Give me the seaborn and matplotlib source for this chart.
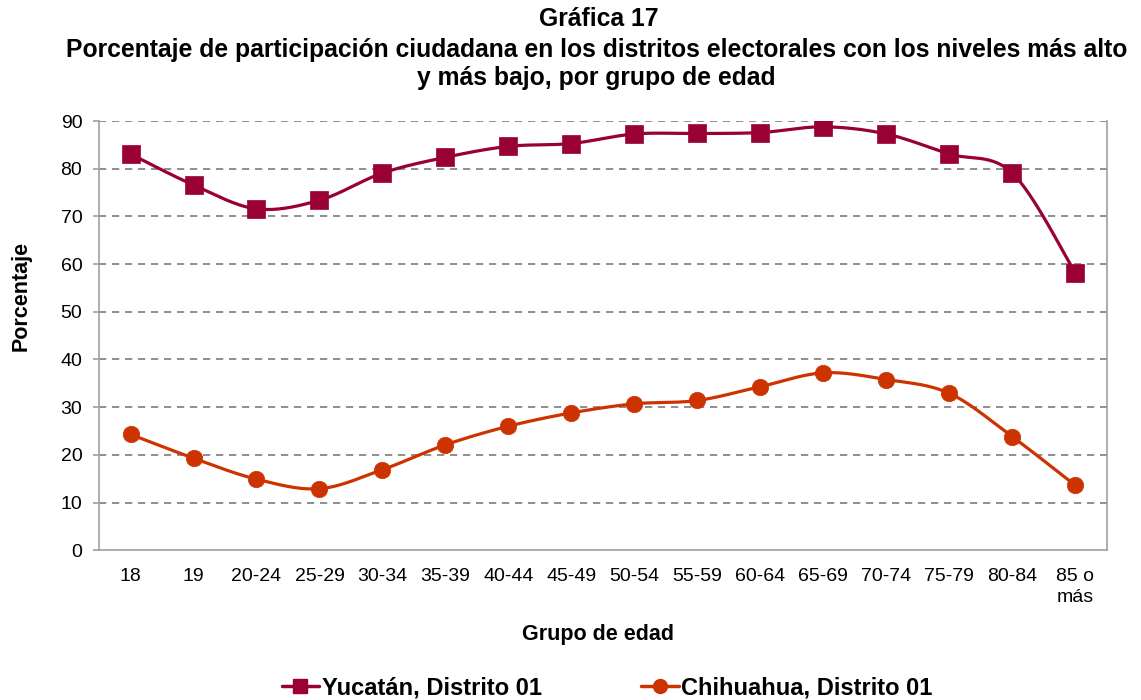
import numpy as np
import pandas as pd
import matplotlib
matplotlib.use("Agg")
import matplotlib.pyplot as plt
from matplotlib.lines import Line2D
import seaborn as sns

categories = ["18", "19", "20-24", "25-29", "30-34", "35-39", "40-44", "45-49",
              "50-54", "55-59", "60-64", "65-69", "70-74", "75-79", "80-84", "85 o\nmás"]
yucatan = [83.1, 76.6, 71.6, 73.4, 79.1, 82.4, 84.7, 85.3, 87.3, 87.4, 87.6, 88.8,
           87.3, 83.1, 79.1, 58.2]
chihuahua = [24.3, 19.3, 14.9, 12.9, 16.9, 22.1, 26.0, 28.8, 30.7, 31.4, 34.3, 37.2,
             35.8, 32.9, 23.8, 13.6]
series_names = ["Yucatán, Distrito 01", "Chihuahua, Distrito 01"]
colors = ["#990033", "#CC3300"]
markers = ["s", "o"]
y_ticks = list(range(0, 100, 10))

sns.set_theme(style="white")
plt.rcParams["font.family"] = ["Liberation Sans", "DejaVu Sans"]
plt.rcParams["text.color"] = "black"
plt.rcParams["xtick.color"] = "black"
plt.rcParams["ytick.color"] = "black"
plt.rcParams["axes.labelcolor"] = "black"


def smooth(xs, ys, n=30):
    """Catmull-Rom style cubic Bezier smoothing (like Excel smoothed lines)."""
    xs = np.asarray(xs, float)
    ys = np.asarray(ys, float)
    px = np.concatenate([[xs[0]], xs, [xs[-1]]])
    py = np.concatenate([[ys[0]], ys, [ys[-1]]])
    outx, outy = [], []
    t = np.linspace(0, 1, n)
    for i in range(1, len(px) - 2):
        p0 = np.array([px[i], py[i]])
        p3 = np.array([px[i + 1], py[i + 1]])
        c1 = p0 + (np.array([px[i + 1], py[i + 1]]) - np.array([px[i - 1], py[i - 1]])) / 6
        c2 = p3 - (np.array([px[i + 2], py[i + 2]]) - np.array([px[i], py[i]])) / 6
        b = ((1 - t) ** 3)[:, None] * p0 + (3 * (1 - t) ** 2 * t)[:, None] * c1 \
            + (3 * (1 - t) * t ** 2)[:, None] * c2 + (t ** 3)[:, None] * p3
        outx.extend(b[:, 0])
        outy.extend(b[:, 1])
    return np.array(outx), np.array(outy)


fig = plt.figure(figsize=(11.41, 7.0), dpi=100)
ax = fig.add_axes([0.0868, 0.214, 0.970 - 0.0868, 0.827 - 0.214])

xpos = np.arange(len(categories))
for vals, name, c, m in zip([yucatan, chihuahua], series_names, colors, markers):
    sx, sy = smooth(xpos, vals)
    sns.lineplot(x=sx, y=sy, ax=ax, color=c, linewidth=2.3, sort=False, estimator=None)
    df = pd.DataFrame({"x": xpos, "y": vals})
    sns.scatterplot(data=df, x="x", y="y", ax=ax, color=c, marker=m,
                    s=150 if m == "s" else 140, edgecolor=c, linewidth=0.5, zorder=5)

ax.set_xlim(-0.5, len(categories) - 0.5)
ax.set_ylim(0, 90)
ax.set_yticks(y_ticks)
ax.set_yticklabels([str(v) for v in y_ticks], fontsize=14)
ax.set_xticks(xpos)
ax.set_xticklabels(categories, fontsize=14, linespacing=1.25)
ax.tick_params(axis="x", length=0, pad=13)
ax.tick_params(axis="y", length=4, width=1.2, color="#A0A0A0", pad=8, direction="out", left=True)

for v in y_ticks[1:]:
    ax.axhline(v, color="#868686", linestyle=(0, (4, 3.2)), linewidth=1.3, zorder=0)

for s in ["left", "bottom", "right"]:
    ax.spines[s].set_color("#A0A0A0")
    ax.spines[s].set_linewidth(1.2)
ax.spines["top"].set_visible(False)

ax.set_xlabel("Grupo de edad", fontsize=15.5, fontweight="bold")
ax.set_ylabel("Porcentaje", fontsize=15.5, fontweight="bold")
ax.xaxis.set_label_coords(0.495, -0.173)
ax.yaxis.set_label_coords(-0.067, 0.592)

title_kw = dict(ha="center", va="center", fontsize=17.8, fontweight="bold")
fig.text(0.525, 0.973, "Gráfica 17", **title_kw)
fig.text(0.523, 0.929, "Porcentaje de participación ciudadana en los distritos electorales con los niveles más alto",
         **title_kw)
fig.text(0.523, 0.888, "y más bajo, por grupo de edad", **title_kw)

handles = [Line2D([0], [0], color=c, marker=m, markersize=10,
                  linewidth=2.5, markeredgecolor=c) for c, m in zip(colors, markers)]
fig.legend(handles, series_names, loc="center", bbox_to_anchor=(0.532, 0.017), ncol=2,
           frameon=False, handlelength=1.6, handletextpad=0.1,
           columnspacing=4.2, prop={"weight": "bold", "size": 17})

fig.savefig("out.png", dpi=100)
